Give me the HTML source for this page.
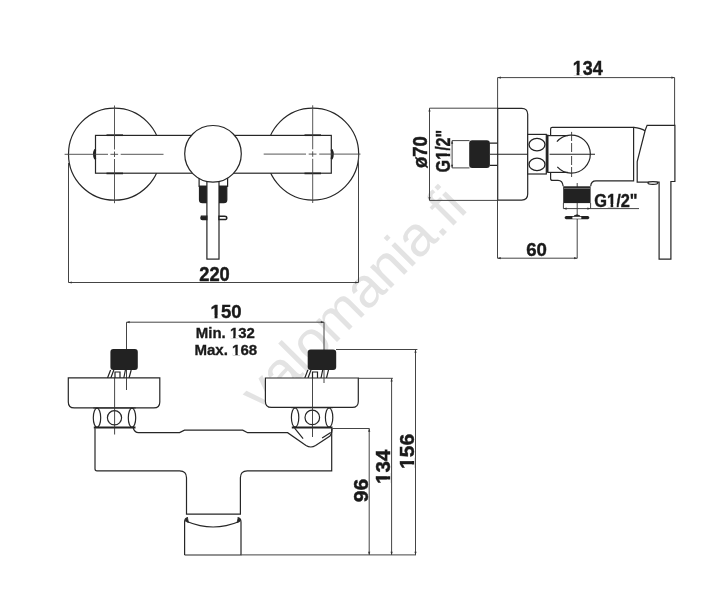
<!DOCTYPE html>
<html><head><meta charset="utf-8"><style>
html,body{margin:0;padding:0;background:#fff;width:710px;height:601px;overflow:hidden}
svg{display:block}
text{font-family:"Liberation Sans",sans-serif;font-weight:bold}
</style></head><body>
<svg width="710" height="601" viewBox="0 0 710 601">
<!-- watermark -->
<text transform="translate(263.5,415.5) rotate(-45)" font-size="56" letter-spacing="-0.7" fill="#e3e3e3" style="font-weight:normal">valomania.fi</text>
<!-- ===== TOP VIEW ===== -->
<g fill="none" stroke="#262626" stroke-width="1.2">
  <circle cx="114.5" cy="154.2" r="46"/>
  <circle cx="312.7" cy="154.1" r="46"/>
</g>
<rect x="95.5" y="135.4" width="235.8" height="37.8" fill="#fff" stroke="#262626" stroke-width="1.2"/>
<g stroke="#222" stroke-width="2.2" fill="none">
  <path d="M106.5,135.2 H123" stroke-width="1.7"/><path d="M106.5,173.4 H123" stroke-width="1.7"/>
  <path d="M304.5,135.2 H321" stroke-width="1.7"/><path d="M304.5,173.4 H321" stroke-width="1.7"/>
  <path d="M95.3,149.5 Q92.8,154.2 95.3,159"/>
  <path d="M331.5,149.5 Q334,154.2 331.5,159"/>
</g>
<!-- stem / connector -->
<g stroke="#222" stroke-width="1.2">
  <rect x="199.1" y="176" width="28.5" height="10.3" fill="#fff"/>
  <path d="M199.5,186.3 H206.9 V202.7 H202.5 Q199.5,202.7 199.5,199.7 Z" fill="#222"/>
  <path d="M219,186.3 H226.8 V199.7 Q226.8,202.7 223.8,202.7 H219 Z" fill="#222"/>
  <rect x="206.9" y="176" width="12.1" height="83.1" fill="#fff"/>
  <path d="M200.8,216.2 H206.9 V219.6 H202.5 Q200.8,219.6 200.8,217.9 Q200.8,216.2 202.5,216.2 Z" fill="#222"/>
  <path d="M219,216.2 H224.5 Q226.8,216.2 226.8,217.9 Q226.8,219.6 224.5,219.6 H219 Z" fill="#fff" stroke-width="1.5"/>
</g>
<circle cx="213" cy="153.8" r="28.3" fill="#fff" stroke="#262626" stroke-width="1.2"/>
<!-- centerlines -->
<g stroke="#444" stroke-width="0.9" fill="none">
  <path d="M64.6,154.3 H108 M110.4,154.3 H118.1 M120.7,154.3 H163.5"/>
  <path d="M114.5,105.5 V149.5 M114.5,151.5 V157 M114.5,159 V203.2"/>
  <path d="M263.7,154.1 H306 M308.7,154.1 H316.5 M319.2,154.1 H360.5"/>
  <path d="M312.7,105.3 V149.3 M312.7,151.3 V156.8 M312.7,158.8 V203"/>
</g>
<!-- 220 dimension -->
<g stroke="#444" stroke-width="1" fill="none">
  <path d="M68.5,163 V282.5 H358.5 V154.5"/>
</g>
<!-- ===== SIDE VIEW ===== -->
<g stroke="#444" stroke-width="1" fill="none">
  <path d="M497.6,77.6 H674.6"/>
  <path d="M497.6,77.6 V108.3"/>
  <path d="M674.6,77.6 V125.4"/>
  <path d="M497.6,108.2 H429.5 V200.4 H497.6"/>
  <path d="M497.5,200.4 V258.2 H577.4"/>
  <path d="M452.1,140.6 V167.9 M452.1,140.6 H469.5 M452.1,167.9 H469.5"/>
  <path d="M563.4,203 V208.6 M590.6,203 V208.6 M563.4,208.6 H639"/>
  <path d="M577.2,183 V258.2"/>
</g>
<!-- thread (feed) -->
<rect x="469.2" y="140.3" width="20.7" height="27.6" rx="3" fill="#222"/>
<g stroke="#222" stroke-width="1.3" fill="none">
  <path d="M489.9,143.1 H497.7 M489.9,165.3 H497.7"/>
</g>
<!-- rosette side -->
<path d="M497.7,108.3 H521.7 Q527.7,108.3 527.7,114.3 V194.1 Q527.7,200.1 521.7,200.1 H497.7 Z" fill="#fff" stroke="#262626" stroke-width="1.2"/>
<!-- nut -->
<rect x="527.7" y="134.4" width="18.6" height="39.6" fill="#fff" stroke="#262626" stroke-width="1.2"/>
<g fill="none" stroke="#222" stroke-width="1.3">
  <ellipse cx="537" cy="144.6" rx="8" ry="6.2"/>
  <ellipse cx="537" cy="164.4" rx="8" ry="6.2"/>
</g>
<path d="M547.4,134.6 V172.6" stroke="#222" stroke-width="2.2"/>
<!-- body side -->
<g fill="none" stroke="#262626" stroke-width="1.2">
  <path d="M550.6,135.6 V129 Q550.6,127.3 552.3,127.3 H633.6 V180.9 H596 Q591,180.9 590.7,186.3"/>
  <path d="M563.2,186.3 Q562.5,180.4 558,180.4 H552.6 Q550.6,180.4 550.6,178.4 V172.4"/>
  <path d="M547.4,135.6 H568"/>
  <path d="M547.4,172.4 H568"/>
  <path d="M556.9,141.7 A19,19 0 1 1 557.3,166.9"/>
  <path d="M633.6,127.3 Q641,127.8 645.3,131"/>
</g>
<g stroke="#333" stroke-width="0.9" fill="none">
  <path d="M490,154.2 H527.7 M549.6,154.2 H595" stroke="#222" stroke-width="1.1"/>
  <path d="M571.6,131.9 V141 M571.6,143 V152 M571.6,156 V165 M571.6,167 V177"/>
</g>
<!-- outlet thread -->
<rect x="563.2" y="186.3" width="27.4" height="16.8" fill="#222"/>
<path d="M564,188.4 H590" stroke="#888" stroke-width="0.8"/>
<!-- hose nut lens -->
<path d="M566,215.9 H588 Q590.8,217.6 588,219.3 H566 Q563.2,217.6 566,215.9 Z" fill="#222"/>
<rect x="572.4" y="216.8" width="8.9" height="1.9" fill="#fff"/>
<path d="M574,215.9 Q577,213.8 580,215.9" fill="#222" stroke="#222" stroke-width="0.8"/>
<!-- handle -->
<path d="M647.1,125.4 H674.9 V181.5 H670.9 V259.2 H659.1 V182.2 H637.2 V161.6 L645.2,130.3 Z" fill="#fff" stroke="#262626" stroke-width="1.2"/>
<ellipse cx="652.9" cy="183" rx="5" ry="1.3" fill="#fff" stroke="#222" stroke-width="1.2"/>
<!-- ===== FRONT VIEW ===== -->
<g stroke="#444" stroke-width="1" fill="none">
  <path d="M126.5,390 V322.2 H324 V383"/>
  <path d="M336,349.5 H417.4"/>
  <path d="M358.3,378.3 H392.9"/>
  <path d="M332.7,428.5 H369.5"/>
  <path d="M241.3,554.9 H416"/>
  <path d="M369.2,428.6 V554.9 M391.6,378.3 V554.9 M415.5,349.6 V554.9"/>
</g>
<!-- threads -->
<rect x="110.4" y="348.9" width="27.4" height="21.1" rx="3" fill="#222"/>
<rect x="307.7" y="349.4" width="28.5" height="20.5" rx="3" fill="#222"/>
<g stroke="#222" stroke-width="1.2" fill="none">
  <path d="M110.6,370 L107.5,378 M113.8,370 L110.8,378"/>
  <path d="M115,378 V372 H120 V378"/>
  <path d="M125.4,370 L123.8,378 M131.2,370 L129,378"/>
  <path d="M307.9,369.9 L304.8,378 M311,369.9 L308,378"/>
  <path d="M312.5,378 V372 H317.5 V378"/>
  <path d="M322.7,369.9 L321,378 M328.5,369.9 L326.5,378"/>
</g>
<!-- rosettes -->
<path d="M68.3,377.9 H159.8 V401.9 Q159.8,407.9 153.8,407.9 H74.3 Q68.3,407.9 68.3,401.9 Z" fill="#fff" stroke="#262626" stroke-width="1.2"/>
<path d="M265.4,378 H358.3 V401.4 Q358.3,407.4 352.3,407.4 H271.4 Q265.4,407.4 265.4,401.4 Z" fill="#fff" stroke="#262626" stroke-width="1.2"/>
<g stroke="#444" stroke-width="1" fill="none">
  <path d="M126.5,378 V390 M324,378 V383"/>
</g>
<!-- nuts -->
<g fill="none" stroke="#262626" stroke-width="1.2">
  <path d="M93.3,408 H135.7"/>
  <ellipse cx="97" cy="417.8" rx="3.7" ry="9.6"/>
  <circle cx="114.5" cy="417.8" r="7.1"/>
  <ellipse cx="132" cy="417.8" rx="3.7" ry="9.6"/>
  <path d="M291.4,407.7 H332.7"/>
  <ellipse cx="295.1" cy="417.6" rx="3.7" ry="9.6"/>
  <circle cx="312.3" cy="417.4" r="7.3"/>
  <ellipse cx="329.1" cy="417.6" rx="3.7" ry="9.6"/>
</g>
<path d="M93.8,427.5 H135.5 M291.8,427.5 H332.5" stroke="#222" stroke-width="2.2"/>
<!-- body front -->
<g fill="none" stroke="#262626" stroke-width="1.2">
  <path d="M95,428.3 V468.7 Q95,470.8 97,470.8 H179.6 Q186.5,470.8 186.5,477.7 V514.1 H240.4 V477.7 Q240.4,470.8 247.3,470.8 H331.7 V428.5"/>
  <path d="M133.2,428 Q134.5,432.6 138.5,432.6 H179.6 L184.5,430.1 H242.7 L247.6,432.7 H287.6 L306,445.5 Q310.8,448.5 315.6,445.5 L330,436 Q332.5,433 332,428"/>
  <path d="M294.6,428.2 L303.1,438.7 M330.8,432.4 L322.1,438"/>
  <path d="M184.6,555 V522 Q184.6,518 188,517.5 M184.6,555 H241 V522 Q241,518 237.6,517.5"/>
  <path d="M187,521.5 Q213,532.5 239.3,521.5"/>
  <path d="M185.2,521 Q185.5,518.3 187.5,518 L188.5,522.5 Z M240.4,521 Q240.1,518.3 238.1,518 L237.1,522.5 Z" fill="#262626" stroke-width="0.8"/>
</g>
<g stroke="#333" stroke-width="0.9" fill="none">
  <path d="M114.6,378 V434.5"/>
  <path d="M312.5,378 V437"/>
</g>

<path d="M68.5,282.5 L71.7,281.4 V283.6 Z M358.5,282.5 L355.3,281.4 V283.6 Z M497.6,77.6 L500.8,76.5 V78.7 Z M674.6,77.6 L671.4,76.5 V78.7 Z M429.5,108.2 L428.4,111.4 H430.6 Z M429.5,200.4 L428.4,197.2 H430.6 Z M452.1,140.6 L451.0,143.8 H453.2 Z M452.1,167.9 L451.0,164.7 H453.2 Z M563.4,208.6 L566.6,207.5 V209.7 Z M590.6,208.6 L587.4,207.5 V209.7 Z M497.5,258.2 L500.7,257.1 V259.3 Z M577.3,258.2 L574.1,257.1 V259.3 Z M126.5,322.2 L129.7,321.1 V323.3 Z M324.0,322.2 L320.8,321.1 V323.3 Z M415.5,349.6 L414.4,352.8 H416.6 Z M415.5,554.9 L414.4,551.7 H416.6 Z M391.6,378.3 L390.5,381.5 H392.7 Z M391.6,554.9 L390.5,551.7 H392.7 Z M369.2,428.6 L368.1,431.8 H370.3 Z M369.2,554.9 L368.1,551.7 H370.3 Z" fill="#333"/>

<g style="will-change:transform">
<g transform="matrix(0.18312,0,0,0.20704,199.251,280.693)"><text font-size="100" fill="#1a1a1a" stroke="#1a1a1a" stroke-width="2.2">220</text></g>
<g transform="matrix(0.17938,0,0,0.20141,572.724,74.799)"><text font-size="100" fill="#1a1a1a" stroke="#1a1a1a" stroke-width="2.2">134</text><path d="M1.0,-14 H21.6 V4 H1.0 Z M37.4,-14 H58.0 V4 H37.4 Z" fill="#fff"/></g>
<g transform="matrix(0.18641,0,0,0.19155,526.154,255.908)"><text font-size="100" fill="#1a1a1a" stroke="#1a1a1a" stroke-width="2.2">60</text></g>
<g transform="matrix(0.16378,0,0,0.18108,594.345,206.619)"><text font-size="100" fill="#1a1a1a" stroke="#1a1a1a" stroke-width="2.2">G1/2&quot;</text><path d="M78.8,-14 H99.4 V4 H78.8 Z M115.2,-14 H135.8 V4 H115.2 Z" fill="#fff"/></g>
<g transform="matrix(0,-0.16181,0.19865,0,449.701,172.447)"><text font-size="100" fill="#1a1a1a" stroke="#1a1a1a" stroke-width="2.2">G1/2&quot;</text><path d="M78.8,-14 H99.4 V4 H78.8 Z M115.2,-14 H135.8 V4 H115.2 Z" fill="#fff"/></g>
<g transform="matrix(0,-0.18503,0.19583,0,426.708,168.085)"><text font-size="100" fill="#1a1a1a" stroke="#1a1a1a" stroke-width="2.2">ø70</text></g>
<g transform="matrix(0.18535,0,0,0.18732,210.588,318.013)"><text font-size="100" fill="#1a1a1a" stroke="#1a1a1a" stroke-width="2.2">150</text><path d="M1.0,-14 H21.6 V4 H1.0 Z M37.4,-14 H58.0 V4 H37.4 Z" fill="#fff"/></g>
<g transform="matrix(0.14974,0,0,0.14730,195.852,337.853)"><text font-size="100" fill="#1a1a1a" stroke="#1a1a1a" stroke-width="2.2">Min. 132</text><path d="M228.8,-14 H249.4 V4 H228.8 Z M265.2,-14 H285.8 V4 H265.2 Z" fill="#fff"/></g>
<g transform="matrix(0.15061,0,0,0.14930,194.446,354.751)"><text font-size="100" fill="#1a1a1a" stroke="#1a1a1a" stroke-width="2.2">Max. 168</text><path d="M251.1,-14 H271.7 V4 H251.1 Z M287.5,-14 H308.1 V4 H287.5 Z" fill="#fff"/></g>
<g transform="matrix(0,-0.21068,0.21127,0,367.989,502.243)"><text font-size="100" fill="#1a1a1a" stroke="#1a1a1a" stroke-width="2.2">96</text></g>
<g transform="matrix(0,-0.20625,0.21127,0,389.789,483.938)"><text font-size="100" fill="#1a1a1a" stroke="#1a1a1a" stroke-width="2.2">134</text><path d="M1.0,-14 H21.6 V4 H1.0 Z M37.4,-14 H58.0 V4 H37.4 Z" fill="#fff"/></g>
<g transform="matrix(0,-0.21019,0.20000,0,413.700,468.961)"><text font-size="100" fill="#1a1a1a" stroke="#1a1a1a" stroke-width="2.2">156</text><path d="M1.0,-14 H21.6 V4 H1.0 Z M37.4,-14 H58.0 V4 H37.4 Z" fill="#fff"/></g>
</g>
</svg>
</body></html>
